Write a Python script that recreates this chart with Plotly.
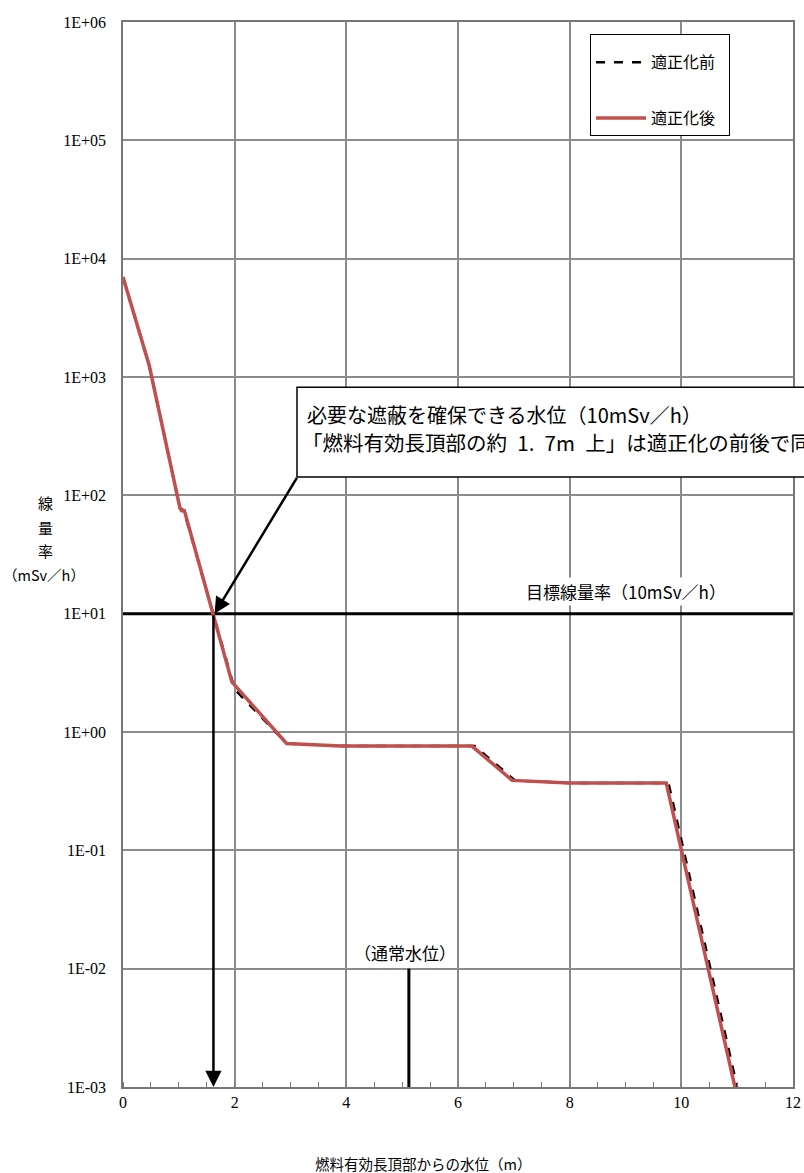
import math
import plotly.graph_objects as go

# ---- data ----
before_x = [0, 0.47, 1.02, 1.10, 1.12, 1.62, 2.00, 2.93, 3.90, 6.30, 7.02, 8.00, 9.77, 11.00]
before_y = [7000, 1250, 78, 74, 66, 10, 2.3, 0.80, 0.76, 0.76, 0.39, 0.37, 0.37, 0.001]
after_x = [0, 0.47, 1.02, 1.05, 1.10, 1.62, 1.95, 2.93, 3.90, 6.25, 6.97, 8.00, 9.73, 10.96]
after_y = [7000, 1250, 78, 74, 74, 10, 2.65, 0.80, 0.76, 0.76, 0.39, 0.37, 0.37, 0.001]
target_rate = 10
target_x = [0, 12]
normal_level_x = 5.12
normal_level_y = [0.01, 0.001]
required_level_x = 1.62
y_tickvals = [1e-3, 1e-2, 1e-1, 1e0, 1e1, 1e2, 1e3, 1e4, 1e5, 1e6]
y_ticktext = ["1E-03", "1E-02", "1E-01", "1E+00", "1E+01", "1E+02", "1E+03", "1E+04", "1E+05", "1E+06"]
x_tickvals = [0, 2, 4, 6, 8, 10, 12]

SERIF = "Liberation Serif, Noto Sans CJK JP"
JP = "Noto Sans CJK JP, Liberation Serif"

fig = go.Figure()
fig.add_trace(go.Scatter(x=target_x, y=[target_rate, target_rate], mode="lines",
                         line=dict(color="black", width=3), showlegend=False, hoverinfo="skip"))
fig.add_trace(go.Scatter(x=[normal_level_x, normal_level_x], y=normal_level_y, mode="lines",
                         line=dict(color="black", width=3), showlegend=False, hoverinfo="skip"))
fig.add_trace(go.Scatter(x=before_x, y=before_y, mode="lines", name="適正化前\u2002",
                         legendgroup="a",
                         line=dict(color="black", width=2.5, dash="dash")))
fig.add_trace(go.Scatter(x=after_x, y=after_y, mode="lines", name="適正化後\u2002",
                         legendgroup="b",
                         line=dict(color="#C0504D", width=3.5)))

grid = "#8c8c8c"
fig.update_layout(
    width=804, height=1173,
    margin=dict(l=123, r=11, t=22, b=86, autoexpand=False),
    plot_bgcolor="white", paper_bgcolor="white",
    font=dict(family=SERIF, size=15, color="black"),
    showlegend=True,
    legend=dict(x=0.697, y=0.9888, xanchor="left", yanchor="top",
                bordercolor="black", borderwidth=1, bgcolor="white",
                font=dict(family=JP, size=16), tracegroupgap=32,
                itemwidth=50,
                title=dict(text=" ", font=dict(size=8)),
                traceorder="grouped"),
    xaxis=dict(range=[0, 12], tickvals=x_tickvals, showgrid=True, gridcolor=grid, gridwidth=1.5,
               showline=True, linecolor="#777", linewidth=1.5, mirror=True,
               ticks="", zeroline=False, automargin=False,
               tickfont=dict(family=SERIF, size=16),
               minor=dict(dtick=0.5, ticks="inside", ticklen=5, tickcolor="#777", showgrid=False)),
    yaxis=dict(type="log", range=[-3, 6], tickvals=y_tickvals, ticktext=y_ticktext,
               showgrid=True, gridcolor=grid, gridwidth=1.5,
               showline=True, linecolor="#777", linewidth=1.5, mirror=True,
               ticks="", zeroline=False, ticklabelstandoff=12, automargin=False,
               tickfont=dict(family=SERIF, size=16)),
)

# box for annotation
fig.add_shape(type="rect", xref="paper", yref="paper", x0=0.2597, x1=1.1, y0=0.5728, y1=0.657,
              line=dict(color="black", width=1.5), fillcolor="white", layer="above")

ann = []
ann.append(dict(xref="paper", yref="paper", x=0.2716, y=0.631, xanchor="left", yanchor="middle",
                text="必要な遮蔽を確保できる水位（10mSv／h）", showarrow=False,
                font=dict(family=JP, size=20)))
ann.append(dict(xref="paper", yref="paper", x=0.2642, y=0.6056, xanchor="left", yanchor="middle",
                text="「燃料有効長頂部の約\u20021.\u20027m\u2002上」は適正化の前後で同じ", showarrow=False,
                font=dict(family=JP, size=20.5)))
# arrows
ann.append(dict(x=required_level_x, y=-3, ax=required_level_x, ay=math.log10(target_rate),
                xref="x", yref="y", axref="x", ayref="y", text="", showarrow=True,
                arrowhead=2, arrowsize=1.3, arrowwidth=2.5, arrowcolor="black"))
ann.append(dict(x=1.64, y=1.0, ax=3.13, ay=2.16,
                xref="x", yref="y", axref="x", ayref="y", text="", showarrow=True,
                arrowhead=2, arrowsize=1.3, arrowwidth=2.5, arrowcolor="black"))
# labels
ann.append(dict(x=9.0, y=math.log10(target_rate), xref="x", yref="y", yanchor="bottom", yshift=8,
                text="目標線量率（10mSv／h）", showarrow=False, bgcolor="white",
                font=dict(family=JP, size=17)))
ann.append(dict(x=5.05, y=-2, xref="x", yref="y", yanchor="bottom", yshift=2,
                text="（通常水位）", showarrow=False, font=dict(family=JP, size=17)))
for txt, yy, xx, fs in [("線", 0.5484, -0.1164, 15), ("量", 0.5258, -0.1164, 15),
                        ("率", 0.5033, -0.1164, 15), ("（mSv／h）", 0.4808, -0.1179, 14.5)]:
    ann.append(dict(xref="paper", yref="paper", x=xx, y=yy, xanchor="center", yanchor="middle",
                    text=txt, showarrow=False, font=dict(family=JP, size=fs)))
ann.append(dict(xref="paper", yref="paper", x=0.4485, y=-0.0714, xanchor="center", yanchor="middle",
                text="燃料有効長頂部からの水位（m）", showarrow=False,
                font=dict(family=JP, size=14.5)))
fig.update_layout(annotations=ann)

fig.write_html("out.html", config={"displayModeBar": False},
               post_script="document.body.style.margin='0px';")
